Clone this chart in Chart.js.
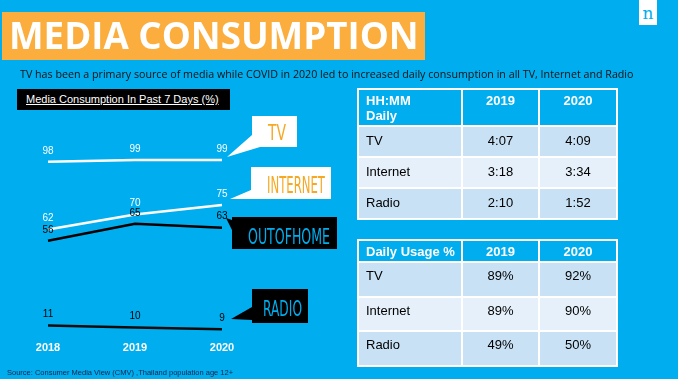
<!DOCTYPE html>
<html>
<head>
<meta charset="utf-8">
<script src="https://cdn.jsdelivr.net/npm/chart.js@4.4.1/dist/chart.umd.min.js"></script>
<style>
  body { margin: 0; background: #00aeef; }
  #slide {
    position: relative;
    width: 678px;
    height: 379px;
    background: #00aeef;
    overflow: hidden;
    font-family: "Liberation Sans", Arial, sans-serif;
  }
  #chart { position: absolute; left: 0; top: 0; }
  .title-box {
    position: absolute; left: 2px; top: 12px; width: 423px; height: 48px;
    background: #fbae3d;
  }
  .title-box span {
    position: absolute; left: 7px; top: 3px;
    font-family: "Open Sans", sans-serif; font-weight: 700; font-size: 36.7px;
    color: #fff; line-height: 40px; white-space: nowrap;
  }
  .subtitle {
    position: absolute; left: 20px; top: 67px;
    font-family: "Open Sans", sans-serif; font-size: 10.7px; color: #111;
    white-space: nowrap;
  }
  .chart-title {
    position: absolute; left: 17px; top: 89px; width: 213px; height: 21px;
    background: #000; color: #fff; font-size: 11px; line-height: 21px;
    text-decoration: underline; padding-left: 9px; box-sizing: border-box;
    white-space: nowrap;
  }
  .callout { position: absolute; }
  .callout-txt {
    position: absolute; white-space: nowrap; line-height: 1;
    font-family: "DejaVu Sans", sans-serif; font-weight: 400;
    transform-origin: 0 0;
  }
  .source {
    position: absolute; left: 7px; top: 368px; font-size: 7.5px; color: #15234a;
    white-space: nowrap;
  }
  .logo {
    position: absolute; left: 639px; top: 0; width: 18px; height: 25px;
    background: #fff; color: #00aeef; text-align: center;
    font-family: "DejaVu Serif", serif; font-size: 17px; line-height: 26px;
  }
  table.data {
    position: absolute; left: 357px; border-collapse: collapse;
    table-layout: fixed; font-size: 13px;
  }
  table.data td, table.data th {
    border: 2px solid #fff; vertical-align: top; padding: 0;
  }
  table.data th {
    background: #00aeef; color: #fff; font-weight: 700; text-align: center;
  }
  table.data th.first, table.data td.first { text-align: left; padding-left: 7px; }
  table.data td { text-align: center; color: #000; }
  table.data tr.odd td { background: #c9e1f5; }
  table.data tr.even td { background: #e5f0fa; }
</style>
</head>
<body>
<div id="slide">
  <canvas id="chart" width="678" height="379"></canvas>

  <div class="title-box"><span>MEDIA CONSUMPTION</span></div>
  <div class="subtitle">TV has been a primary source of media while COVID in 2020 led to increased daily consumption in all TV, Internet and Radio</div>
  <div class="chart-title">Media Consumption In Past 7 Days (%)</div>

  <div class="callout" style="left:227px;top:116px;width:70px;height:42px;background:#fff;clip-path:polygon(25px 0,70px 0,70px 31px,33px 31px,0 41px,25px 19px);"></div>
  <div class="callout" style="left:229px;top:167px;width:102px;height:33px;background:#fff;clip-path:polygon(22px 0,102px 0,102px 32px,1px 32px,22px 23px);"></div>
  <div class="callout" style="left:226px;top:217px;width:111px;height:33px;background:#000;clip-path:polygon(6px 0,111px 0,111px 32px,6px 32px,6px 13px,0 1px,6px 3px);"></div>
  <div class="callout" style="left:231px;top:289px;width:77px;height:34px;background:#000;clip-path:polygon(21px 0,77px 0,77px 34px,21px 34px,21px 31px,0 30px,21px 18px);"></div>

  <span class="callout-txt" data-w="18" style="left:268px;top:122px;font-size:22px;color:#f7a823;">TV</span>
  <span class="callout-txt" data-w="58" style="left:267px;top:174px;font-size:23px;color:#f7a823;">INTERNET</span>
  <span class="callout-txt" data-w="82" style="left:248px;top:227px;font-size:21px;color:#00aeef;">OUTOFHOME</span>
  <span class="callout-txt" data-w="39" style="left:263px;top:299px;font-size:21px;color:#00aeef;">RADIO</span>

  <table class="data" id="timeTable" style="top:88px;width:259px;"></table>
  <table class="data" id="usageTable" style="top:239px;width:259px;"></table>

  <div class="source">Source: Consumer Media View (CMV) ,Thailand population age 12+</div>
  <div class="logo">n</div>
</div>

<script>
const years = ["2018", "2019", "2020"];
const tvReach = [98, 99, 99];
const internetReach = [62, 70, 75];
const outOfHomeReach = [56, 65, 63];
const radioReach = [11, 10, 9];

const tableMedia = ["TV", "Internet", "Radio"];
const tableYears = ["2019", "2020"];
const dailyTime2019 = ["4:07", "3:18", "2:10"];
const dailyTime2020 = ["4:09", "3:34", "1:52"];
const dailyUsage2019 = ["89%", "89%", "49%"];
const dailyUsage2020 = ["92%", "90%", "50%"];

document.addEventListener("DOMContentLoaded", function () {
  buildTable("timeTable", "HH:MM<br>Daily", dailyTime2019, dailyTime2020, 37, [31, 31, 31], 6);
  buildTable("usageTable", "Daily Usage %", dailyUsage2019, dailyUsage2020, 22, [35, 34, 35], 5);
  squeezeCallouts();
  initializeChart();
});

// the callout words are a very narrow display face, so squeeze a normal one to fit
function squeezeCallouts() {
  document.querySelectorAll(".callout-txt").forEach((el) => {
    const target = parseFloat(el.getAttribute("data-w"));
    const w = el.getBoundingClientRect().width;
    el.style.transform = `scaleX(${target / w})`;
  });
}

function buildTable(id, heading, col2019, col2020, headHeight, rowHeights, padTop) {
  const table = document.getElementById(id);
  let html =
    '<colgroup><col style="width:104px"><col style="width:77px"><col style="width:78px"></colgroup>';
  html += `<tr style="height:${headHeight}px"><th class="first" style="padding-top:3px">${heading}</th>`;
  tableYears.forEach((y) => {
    html += `<th style="padding-top:3px">${y}</th>`;
  });
  html += "</tr>";
  tableMedia.forEach((m, i) => {
    const cls = i % 2 === 0 ? "odd" : "even";
    html += `<tr class="${cls}" style="height:${rowHeights[i]}px">`;
    html += `<td class="first" style="padding-top:${padTop}px">${m}</td>`;
    html += `<td style="padding-top:${padTop}px">${col2019[i]}</td>`;
    html += `<td style="padding-top:${padTop}px">${col2020[i]}</td>`;
    html += "</tr>";
  });
  table.innerHTML = html;
}

const pointLabels = {
  id: "pointLabels",
  afterDatasetsDraw(chart) {
    const ctx = chart.ctx;
    ctx.save();
    ctx.font = "10px 'Liberation Sans', Arial, sans-serif";
    ctx.textAlign = "center";
    ctx.textBaseline = "middle";
    chart.data.datasets.forEach((ds, i) => {
      const meta = chart.getDatasetMeta(i);
      ctx.fillStyle = ds.labelColor;
      meta.data.forEach((pt, j) => {
        ctx.fillText(ds.data[j], pt.x, pt.y - 11);
      });
    });
    ctx.restore();
  },
};

function initializeChart() {
  Chart.defaults.font.family = "'Liberation Sans', Arial, sans-serif";
  const ctx = document.getElementById("chart").getContext("2d");
  new Chart(ctx, {
    type: "line",
    data: {
      labels: years,
      datasets: [
        { label: "TV", data: tvReach, borderColor: "#ffffff", labelColor: "#ffffff" },
        { label: "Internet", data: internetReach, borderColor: "#ffffff", labelColor: "#ffffff" },
        { label: "Out of home", data: outOfHomeReach, borderColor: "#000000", labelColor: "#000000" },
        { label: "Radio", data: radioReach, borderColor: "#0a0a0a", labelColor: "#000000" },
      ],
    },
    options: {
      responsive: false,
      animation: false,
      layout: {
        padding: { left: 48, right: 456, top: 158, bottom: 19 },
      },
      plugins: {
        legend: { display: false },
        tooltip: { enabled: false },
      },
      elements: {
        point: { radius: 0 },
        line: { tension: 0, borderWidth: 2.5 },
      },
      scales: {
        x: {
          grid: { display: false, drawTicks: false },
          border: { display: false },
          ticks: {
            color: "#ffffff",
            font: { size: 11, weight: "bold" },
            padding: 5,
            maxRotation: 0,
          },
        },
        y: { display: false, min: 5, max: 100 },
      },
    },
    plugins: [pointLabels],
  });
}
</script>
</body>
</html>
